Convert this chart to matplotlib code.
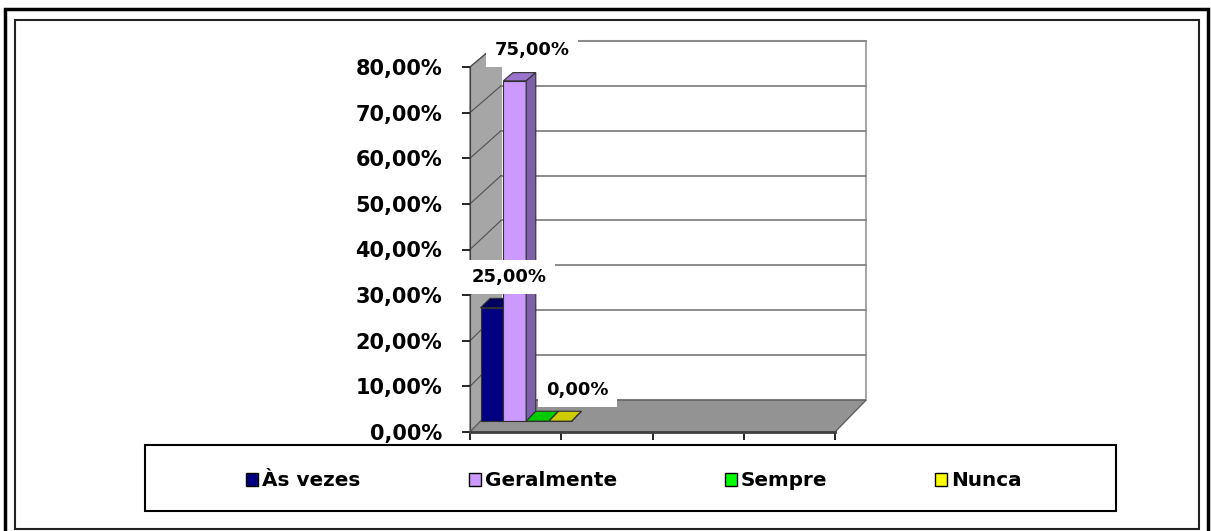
import matplotlib
matplotlib.use("Agg")
import matplotlib.pyplot as plt
from matplotlib.patches import Polygon, Rectangle, Patch

# dados do gráfico
series = ["Às vezes", "Geralmente", "Sempre", "Nunca"]
values = [25.0, 75.0, 0.0, 0.0]
show_label = [True, True, False, True]  # o rótulo de "Sempre" fica escondido no original
n_slots = 4
y_ticks = [0, 10, 20, 30, 40, 50, 60, 70, 80]

front_colors = ["#000080", "#CC99FF", "#00FF00", "#FFFF00"]
top_colors = ["#00005E", "#9973CC", "#00CC00", "#CCCC00"]
side_colors = ["#000050", "#7F5FA8", "#00A000", "#A0A000"]

W, H = 1211, 531

# profundidade (efeito 3D)
DX = 0.34
DY = 7.0
SHRINK = 0.016
BAR_W = 0.25
T_FRONT = 0.34
T_BACK = 0.65


def proj(x, v, t):
    return x + DX * t, v * (1 - SHRINK * t) + DY * t


def fx(px):
    return px / W


def fy(py):
    return 1 - py / H


fig = plt.figure(figsize=(W / 100, H / 100), dpi=100)
fig.patch.set_facecolor("white")

# molduras
fig.add_artist(Rectangle((fx(5), fy(535)), fx(1208) - fx(5), fy(9) - fy(535),
                         transform=fig.transFigure, fill=False, ec="black", lw=2.5))
fig.add_artist(Rectangle((fx(15), fy(529)), fx(1199) - fx(15), fy(20) - fy(529),
                         transform=fig.transFigure, fill=False, ec="#222222", lw=1.5))
fig.add_artist(Rectangle((fx(145), fy(511)), fx(1116) - fx(145), fy(445) - fy(511),
                         transform=fig.transFigure, fill=False, ec="black", lw=1.5))

ax = fig.add_axes([fx(470), fy(432), fx(835) - fx(470), fy(67) - fy(432)])
ax.set_xlim(0, n_slots)
ax.set_ylim(0, y_ticks[-1])
ax.set_facecolor("none")

top = y_ticks[-1]

# parede lateral
side = [proj(0, 0, 0), proj(0, top, 0), proj(0, top, 1), proj(0, 0, 1)]
ax.add_patch(Polygon(side, closed=True, fc="#A6A6A6", ec="#707070", lw=1, clip_on=False, zorder=1))

# parede do fundo
back = [proj(0, 0, 1), proj(n_slots, 0, 1), proj(n_slots, top, 1), proj(0, top, 1)]
ax.add_patch(Polygon(back, closed=True, fc="white", ec="#A8A8A8", lw=1.5, clip_on=False, zorder=1))

# linhas de grade
for v in y_ticks[1:]:
    x0, y0 = proj(0, v, 1)
    x1, y1 = proj(n_slots, v, 1)
    ax.plot([x0, x1], [y0, y1], color="#8C8C8C", lw=1.4, clip_on=False, zorder=2)
    ax.plot([0, x0], [v, y0], color="#505050", lw=0.8, clip_on=False, zorder=2)

# piso
floor = [proj(0, 0, 0), proj(n_slots, 0, 0), proj(n_slots, 0, 1), proj(0, 0, 1)]
ax.add_patch(Polygon(floor, closed=True, fc="#939393", ec="#606060", lw=1, clip_on=False, zorder=3))
ax.plot([0, n_slots], [0, 0], color="#404040", lw=2, clip_on=False, zorder=3)

# barras
for i, (name, val) in enumerate(zip(series, values)):
    x = i * BAR_W
    fx0, fb = proj(x, 0, T_FRONT)
    _, ft = proj(x, val, T_FRONT)
    ax.bar(fx0, ft - fb, bottom=fb, width=BAR_W, align="edge", color=front_colors[i],
           edgecolor="#303030", linewidth=0.8, zorder=4 + i, clip_on=False)
    top_face = [proj(x, val, T_FRONT), proj(x + BAR_W, val, T_FRONT),
                proj(x + BAR_W, val, T_BACK), proj(x, val, T_BACK)]
    ax.add_patch(Polygon(top_face, closed=True, fc=top_colors[i], ec="#303030", lw=0.8,
                         zorder=4 + i, clip_on=False))
    side_face = [proj(x + BAR_W, 0, T_FRONT), proj(x + BAR_W, val, T_FRONT),
                 proj(x + BAR_W, val, T_BACK), proj(x + BAR_W, 0, T_BACK)]
    ax.add_patch(Polygon(side_face, closed=True, fc=side_colors[i], ec="#303030", lw=0.8,
                         zorder=4 + i, clip_on=False))

# rótulos de dados
for i, val in enumerate(values):
    if not show_label[i]:
        continue
    cx, cy = proj(i * BAR_W + BAR_W / 2, val, (T_FRONT + T_BACK) / 2)
    label = f"{val:.2f}%".replace(".", ",")
    ax.annotate(label, (cx, cy), xytext=(9, 19), textcoords="offset points",
                ha="center", va="center", fontsize=13, fontweight="bold",
                bbox=dict(boxstyle="square,pad=0.45", fc="white", ec="none"),
                zorder=20 + i, annotation_clip=False)

# eixos
ax.set_yticks(y_ticks)
ax.set_yticklabels([f"{v:.2f}%".replace(".", ",") for v in y_ticks],
                   fontsize=15, fontweight="bold")
ax.set_xticks(range(n_slots + 1))
ax.set_xticklabels([])
ax.tick_params(axis="y", direction="out", length=6, width=1.2, pad=14, color="black")
ax.tick_params(axis="x", direction="out", length=6, width=1.2, color="black")
for s in ["top", "right", "bottom"]:
    ax.spines[s].set_visible(False)
ax.spines["left"].set_color("#404040")
ax.spines["left"].set_zorder(5)

# legenda
handles = [Patch(facecolor=c, edgecolor="black", linewidth=1) for c in front_colors]
fig.legend(handles, series, loc="center", bbox_to_anchor=(fx(634), fy(481)), ncol=4,
           frameon=False, prop={"size": 14.4, "weight": "bold"},
           handlelength=0.6, handleheight=0.6, handletextpad=0.2, columnspacing=5.4)

fig.savefig("out.png", dpi=100)
